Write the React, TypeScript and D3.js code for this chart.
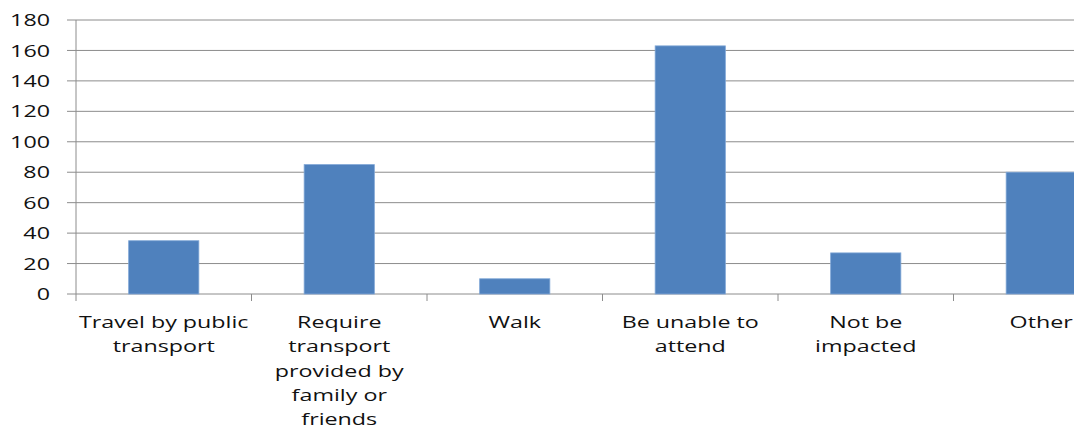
import React from "react";
import * as d3 from "d3";

const categories: string[][] = [
  ["Travel by public", "transport"],
  ["Require", "transport", "provided by", "family or", "friends"],
  ["Walk"],
  ["Be unable to", "attend"],
  ["Not be", "impacted"],
  ["Other"],
];
const values: number[] = [35, 85, 10, 163, 27, 80];
const yTicks: number[] = [0, 20, 40, 60, 80, 100, 120, 140, 160, 180];

export default function App() {
  const W = 1074;
  const H = 430;
  const left = 76;
  const right = 1129;
  const top = 20;
  const bottom = 294;
  const ids = categories.map((_, i) => String(i));
  const x = d3.scaleBand<string>().domain(ids).range([left, right]).paddingInner(0).paddingOuter(0);
  const bw = x.bandwidth() / 2.5;
  const y = d3.scaleLinear().domain([0, 180]).range([bottom, top]);
  const grid = "#8c8c8c";
  const font = "'Open Sans', sans-serif";
  const sx = 1.37;
  return (
    <svg
      width={W}
      height={H}
      style={{ position: "absolute", left: 0, top: 0, background: "#fff" }}
    >
      {yTicks.map((t) => (
        <g key={t}>
          <line x1={left - 9} x2={right} y1={y(t)} y2={y(t)} stroke={grid} strokeWidth={1} />
          <g transform={`translate(50,${y(t)}) scale(${sx},1)`}>
            <text
              dy="0.36em"
              textAnchor="end"
              fontFamily={font}
              fontSize={17}
              fill="#111"
            >
              {t}
            </text>
          </g>
        </g>
      ))}
      <line x1={left} x2={left} y1={top} y2={bottom + 7} stroke={grid} />
      {ids.map((id) => (
        <line
          key={"t" + id}
          x1={(x(id) as number) + x.bandwidth()}
          x2={(x(id) as number) + x.bandwidth()}
          y1={bottom}
          y2={bottom + 7}
          stroke={grid}
        />
      ))}
      {values.map((v, i) => {
        const cx = (x(ids[i]) as number) + x.bandwidth() / 2;
        return (
          <rect
            key={i}
            x={cx - bw / 2}
            y={y(v)}
            width={bw}
            height={bottom - y(v)}
            fill="#4F81BD"
            stroke="#7FA6D6"
            strokeWidth={0.8}
          />
        );
      })}
      {categories.map((lines, i) => {
        const cx = (x(ids[i]) as number) + x.bandwidth() / 2;
        return (
          <g key={"c" + i} transform={`translate(${cx},0) scale(${sx},1)`}>
            <text textAnchor="middle" fontFamily={font} fontSize={17} fill="#111">
              {lines.map((l, j) => (
                <tspan key={j} x={0} y={328 + j * 24.3}>
                  {l}
                </tspan>
              ))}
            </text>
          </g>
        );
      })}
    </svg>
  );
}
